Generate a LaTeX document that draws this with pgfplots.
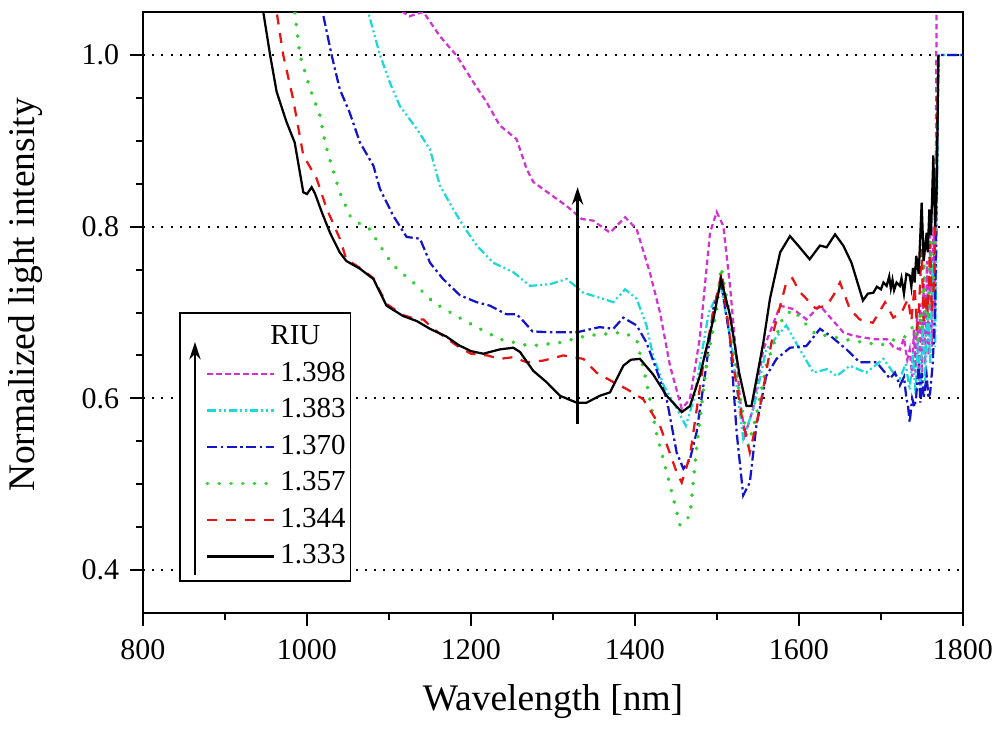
\documentclass[border=0pt]{standalone}
\usepackage{pgfplots}
\pgfplotsset{compat=1.18}
\usepackage{fontspec}
\setmainfont{Liberation Serif}
\usetikzlibrary{arrows.meta}
\definecolor{cMag}{RGB}{210,50,210}
\definecolor{cCya}{RGB}{30,215,215}
\definecolor{cBlu}{RGB}{20,20,200}
\definecolor{cGrn}{RGB}{50,205,50}
\definecolor{cRed}{RGB}{230,20,20}
\begin{document}
\begin{tikzpicture}
\begin{axis}[
  scale only axis,
  width=328pt, height=240.4pt,
  xmin=800, xmax=1800, ymin=0.35, ymax=1.05,
  xtick={800,1000,1200,1400,1600,1800},
  ytick={0.4,0.6,0.8,1.0},
  minor x tick num=1,
  minor y tick num=3,
  xtick pos=left, ytick pos=left,
  tick align=outside,
  major tick length=5pt, minor tick length=2.6pt,
  every tick/.style={black, line width=0.8pt},
  axis line style={line width=1pt},
  ymajorgrids,
  major grid style={black, line width=0.7pt, dash pattern=on 0.8pt off 2.9pt},
  xticklabel style={/pgf/number format/set thousands separator={}, yshift=-2pt},
  yticklabel style={/pgf/number format/fixed, /pgf/number format/fixed zerofill, /pgf/number format/precision=1, xshift=-1pt},
  /pgf/number format/assume math mode=true,
  tick label style={font=\fontsize{12}{14}\selectfont},
  xlabel={Wavelength [nm]},
  ylabel={Normalized light intensity},
  label style={font=\fontsize{15}{18}\selectfont},
  x label style={at={(axis description cs:0.5,-0.148)}, anchor=center},
  y label style={at={(axis description cs:-0.1427,0.529)}, anchor=center},
  clip=true,
  legend cell align=left,
  legend style={at={(rel axis cs:0.044,0.052)}, anchor=south west,
    draw=black, line width=0.6pt, fill=white,
    inner xsep=0pt, inner ysep=4.5pt,
    font=\fontsize{11.6}{14}\selectfont,
    nodes={inner ysep=0pt, text height=8.2pt, text depth=2.4pt},
    row sep=4pt, column sep=0pt},
  legend image code/.code={\path[draw=none,fill=none] (-11pt,-1pt) rectangle (0pt,1pt); \draw[#1] (0pt,0pt) -- (26.5pt,0pt);},
  every axis plot/.append style={line width=0.9pt},
]
\addlegendimage{empty legend}
\addlegendentry{\hspace*{-4pt}RIU}

% 1.398
\addplot[cMag, dash pattern=on 2.2pt off 1.4pt] coordinates {
(1110,1.06) (1117,1.05) (1125,1.045) (1134,1.048) (1142,1.05) (1162,1.022) (1182.6,0.999) (1203,0.968) (1219,0.945) (1235,0.918) (1255.5,0.902) (1268,0.867) (1276,0.852) (1296.3,0.838) (1316.7,0.824) (1335,0.809) (1349,0.807) (1369.5,0.793) (1388,0.811) (1402,0.797) (1418,0.747) (1430.5,0.700) (1442.7,0.638) (1457,0.588) (1467,0.599) (1479,0.670) (1491.5,0.793) (1499.6,0.817) (1507.7,0.801) (1516,0.730) (1528,0.599) (1534,0.557) (1544,0.588) (1556.5,0.657) (1577,0.708) (1593,0.704) (1609,0.692) (1625.6,0.708) (1642,0.690) (1654,0.677) (1666,0.673) (1690.6,0.669) (1707,0.669) (1715,0.660) (1723,0.657) (1728,0.670) (1732,0.645) (1735,0.657) (1738,0.625) (1740,0.680) (1742,0.630) (1744,0.700) (1746,0.620) (1748,0.710) (1750,0.630) (1752,0.740) (1754,0.640) (1756,0.760) (1758,0.650) (1760,0.790) (1762,0.660) (1764,0.800) (1766,0.700) (1768,1.1)
};
\addlegendentry{1.398}

% 1.383
\addplot[cCya, dash pattern=on 3.3pt off 1.2pt on 0.8pt off 1.2pt on 0.8pt off 1.2pt] coordinates {
(1068,1.09) (1074.6,1.05) (1089,1.0) (1101,0.968) (1113,0.941) (1133.8,0.914) (1150,0.890) (1162,0.848) (1178,0.821) (1190.6,0.801) (1207,0.778) (1227,0.758) (1251.6,0.747) (1272,0.731) (1296.3,0.733) (1316.7,0.739) (1337,0.723) (1361,0.716) (1373.5,0.712) (1388,0.727) (1402,0.716) (1414,0.685) (1422,0.650) (1435,0.615) (1450,0.590) (1462,0.568) (1472,0.600) (1490,0.700) (1505,0.730) (1518,0.660) (1532,0.553) (1545,0.590) (1560,0.657) (1584.5,0.685) (1601,0.657) (1617.6,0.630) (1634,0.634) (1646,0.626) (1662,0.638) (1682,0.630) (1703,0.646) (1715,0.630) (1723,0.623) (1730,0.640) (1735,0.610) (1739,0.654) (1742,0.605) (1745,0.670) (1748,0.610) (1751,0.690) (1754,0.620) (1757,0.720) (1760,0.640) (1763,0.760) (1766,0.660) (1768,0.800) (1770,1.0) (1800,1.0)
};
\addlegendentry{1.383}

% 1.370
\addplot[cBlu, dash pattern=on 4pt off 1.4pt on 1pt off 1.4pt] coordinates {
(1012,1.09) (1019,1.05) (1030,1.0) (1040,0.960) (1052,0.933) (1064.6,0.898) (1081,0.871) (1089,0.844) (1105,0.813) (1121.5,0.788) (1137.8,0.786) (1150,0.758) (1166,0.739) (1186.6,0.720) (1207,0.712) (1223,0.708) (1243,0.698) (1255.5,0.698) (1262,0.692) (1275,0.678) (1296,0.677) (1329,0.677) (1357,0.683) (1373.5,0.681) (1385.7,0.694) (1402,0.685) (1414,0.665) (1426,0.634) (1438.7,0.599) (1450.8,0.537) (1459,0.518) (1467,0.529) (1475,0.560) (1487,0.638) (1495.5,0.704) (1505,0.735) (1516,0.669) (1524,0.560) (1532,0.487) (1540,0.502) (1548,0.568) (1560,0.626) (1572.6,0.646) (1589,0.659) (1609,0.661) (1625.6,0.681) (1638,0.673) (1658,0.657) (1674,0.642) (1694.6,0.642) (1711,0.623) (1717,0.630) (1723,0.615) (1728,0.625) (1731,0.600) (1733,0.591) (1735,0.572) (1738,0.600) (1741,0.590) (1743,0.603) (1746,0.640) (1748,0.595) (1750,0.630) (1752,0.600) (1755.7,0.626) (1758,0.600) (1760,0.607) (1763,0.640) (1766,0.700) (1770,1.0) (1800,1.0)
};
\addlegendentry{1.370}

% 1.357
\addplot[cGrn, line cap=round, dash pattern=on 0.1pt off 4.6pt, line width=1.5pt] coordinates {
(980,1.09) (985,1.05) (991.5,0.999) (1004,0.960) (1016,0.929) (1022,0.898) (1030,0.871) (1040,0.840) (1052,0.813) (1065,0.803) (1076.8,0.797) (1089,0.778) (1105,0.755) (1129.6,0.735) (1154,0.712) (1182,0.696) (1207,0.683) (1235,0.669) (1272,0.661) (1308.5,0.665) (1341,0.673) (1385.7,0.677) (1402,0.669) (1414,0.619) (1426,0.560) (1438.7,0.514) (1455,0.452) (1467,0.463) (1475,0.541) (1487,0.638) (1499.6,0.704) (1505,0.753) (1515,0.700) (1525,0.620) (1538,0.545) (1548,0.580) (1560,0.638) (1581,0.696) (1593,0.703) (1605,0.690) (1620,0.675) (1640,0.672) (1660,0.668) (1680,0.665) (1700,0.662) (1715,0.668) (1730,0.672) (1740,0.685) (1745,0.665) (1748,0.700) (1750,0.680) (1752,0.780) (1754,0.700) (1756,0.720) (1758,0.690) (1760,0.800) (1763,0.720) (1765,0.760) (1770,1.0)
};
\addlegendentry{1.357}

% 1.344
\addplot[cRed, dash pattern=on 4pt off 3.5pt] coordinates {
(955,1.09) (963,1.05) (971,1.0) (983,0.949) (995.5,0.883) (1011.8,0.856) (1024,0.821) (1040,0.786) (1048,0.762) (1064.6,0.752) (1081,0.740) (1097,0.710) (1117,0.697) (1134,0.692) (1141.8,0.692) (1154,0.681) (1170,0.670) (1185,0.660) (1200,0.652) (1220,0.650) (1235,0.646) (1251.6,0.648) (1268,0.642) (1288,0.644) (1312.6,0.650) (1337,0.646) (1353,0.630) (1373.5,0.619) (1389.6,0.611) (1410,0.599) (1430.5,0.568) (1450.8,0.514) (1457,0.502) (1467,0.533) (1483,0.638) (1495.5,0.700) (1505.7,0.747) (1520,0.638) (1530,0.580) (1540,0.537) (1552,0.588) (1568.7,0.677) (1584.5,0.735) (1592,0.740) (1600,0.725) (1609,0.716) (1620,0.705) (1633.7,0.708) (1642,0.720) (1650,0.735) (1662,0.704) (1674,0.692) (1690,0.688) (1705,0.712) (1715,0.694) (1725,0.700) (1733,0.716) (1737,0.690) (1741,0.731) (1744,0.680) (1746,0.700) (1749.6,0.774) (1752,0.690) (1755,0.720) (1757,0.700) (1760,0.780) (1762,0.700) (1765,0.740) (1770,1.0)
};
\addlegendentry{1.344}

% 1.333
\addplot[black, solid] coordinates {
(940,1.09) (946.7,1.05) (955,1.0) (963,0.957) (975,0.922) (985,0.898) (995.5,0.840) (1000,0.838) (1005.7,0.846) (1010,0.838) (1018,0.817) (1028,0.793) (1040,0.770) (1048,0.760) (1064.6,0.751) (1081,0.739) (1097,0.708) (1117,0.696) (1134,0.690) (1150,0.681) (1170,0.672) (1185,0.662) (1200,0.655) (1215,0.652) (1235,0.657) (1251.6,0.659) (1259.8,0.654) (1276,0.632) (1292,0.619) (1308.5,0.603) (1328.9,0.595) (1341,0.595) (1357,0.603) (1369.5,0.607) (1385.7,0.638) (1395,0.645) (1406,0.646) (1422,0.628) (1438.7,0.603) (1457,0.584) (1467,0.591) (1479,0.626) (1495.5,0.692) (1505,0.739) (1516,0.696) (1527,0.630) (1536,0.591) (1542,0.591) (1556.5,0.665) (1564.6,0.716) (1577,0.770) (1589,0.789) (1599,0.778) (1613,0.762) (1625.6,0.778) (1633.7,0.776) (1644,0.791) (1654,0.778) (1664,0.758) (1678,0.714) (1684,0.722) (1690.6,0.723) (1695,0.730) (1700,0.727) (1703,0.735) (1706.9,0.731) (1710,0.742) (1712,0.728) (1714,0.738) (1716,0.726) (1719,0.735) (1723,0.731) (1725,0.740) (1728,0.722) (1731,0.745) (1735,0.743) (1737,0.730) (1739,0.752) (1741,0.735) (1743,0.766) (1746,0.745) (1749.6,0.828) (1752,0.760) (1755.7,0.793) (1757,0.770) (1759,0.820) (1761,0.790) (1763.8,0.883) (1766,0.800) (1768,0.848) (1770,1.0)
};
\addlegendentry{1.333}

\draw[line width=1pt, -{Stealth[length=7pt,width=4.5pt]}] (axis cs:1330,0.57) -- (axis cs:1330,0.846);
\coordinate (LA) at (rel axis cs:0.0634,0.063);
\coordinate (LB) at (rel axis cs:0.0634,0.451);
\end{axis}
\draw[line width=1pt, -{Stealth[length=7pt,width=4.5pt]}] (LA) -- (LB);
\pgfresetboundingbox
\path (current axis.south west) ++(-57.2pt,-47.6pt) rectangle ++(400pt,292.8pt);
\end{tikzpicture}
\end{document}
